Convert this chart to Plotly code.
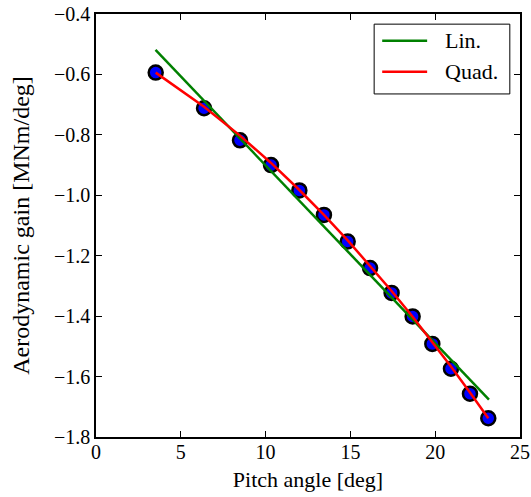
import plotly.graph_objects as go

pitch = [3.52, 6.37, 8.49, 10.32, 11.99, 13.44, 14.84, 16.16, 17.43, 18.67, 19.83, 20.93, 22.05, 23.13]
gain = [-0.594, -0.712, -0.818, -0.900, -0.984, -1.065, -1.153, -1.241, -1.323, -1.401, -1.492, -1.574, -1.657, -1.738]
lin_x = [3.51, 23.17]
lin_y = [-0.519, -1.676]
quad_y = [-0.594, -0.707, -0.8025, -0.893, -0.9825, -1.065, -1.149, -1.2326, -1.3166, -1.402, -1.4851, -1.5666, -1.6525, -1.738]
legend_labels = ["Lin.", "Quad."]
legend_colors = ["green", "red"]

FONT = "Liberation Serif"
fig = go.Figure()
fig.add_trace(go.Scatter(x=pitch, y=gain, mode="markers", showlegend=False,
                         marker=dict(color="blue", size=14, line=dict(color="black", width=2.5))))
fig.add_trace(go.Scatter(x=lin_x, y=lin_y, mode="lines", name=legend_labels[0], showlegend=False,
                         line=dict(color=legend_colors[0], width=2.5)))
fig.add_trace(go.Scatter(x=pitch, y=quad_y, mode="lines", name=legend_labels[1], showlegend=False,
                         line=dict(color=legend_colors[1], width=2.5)))

axis_common = dict(showgrid=False, zeroline=False, showline=True, linecolor="black", linewidth=1.5,
                   mirror="ticks", ticks="inside", ticklen=6, tickwidth=1, tickcolor="black", automargin=False,
                   tickfont=dict(family=FONT, size=20, color="black"))
fig.update_xaxes(range=[0, 25], tickvals=[0, 5, 10, 15, 20, 25], ticktext=["0", "5", "10", "15", "20", "25"],
                 ticklabelstandoff=-4,
                 title=dict(text="Pitch angle [deg]", font=dict(family=FONT, size=22, color="black"), standoff=10),
                 **axis_common)
fig.update_yaxes(range=[-1.8, -0.4], tickvals=[-1.8, -1.6, -1.4, -1.2, -1.0, -0.8, -0.6, -0.4],
                 ticktext=["\u22121.8", "\u22121.6", "\u22121.4", "\u22121.2", "\u22121.0", "\u22120.8", "\u22120.6", "\u22120.4"],
                 title=dict(text="Aerodynamic gain [MNm/deg]", font=dict(family=FONT, size=24, color="black"), standoff=18),
                 **axis_common)

# manual legend box
shapes = [dict(type="rect", xref="paper", yref="paper", x0=0.656, x1=0.976, y0=0.811, y1=0.976,
               line=dict(color="black", width=1), fillcolor="white", layer="above")]
annotations = []
for i, (lab, col) in enumerate(zip(legend_labels, legend_colors)):
    yy = [0.937, 0.8636][i]
    shapes.append(dict(type="line", xref="paper", yref="paper", x0=0.675, x1=0.781, y0=yy, y1=yy,
                       line=dict(color=col, width=2.5), layer="above"))
    annotations.append(dict(xref="paper", yref="paper", x=0.818, y=yy, text=lab, showarrow=False,
                            xanchor="left", yanchor="middle", font=dict(family=FONT, size=22, color="black")))

fig.update_layout(width=531, height=497, margin=dict(l=96, r=11, t=14, b=60),
                  plot_bgcolor="white", paper_bgcolor="white", showlegend=False,
                  shapes=shapes, annotations=annotations)
fig.write_html("out.html")
